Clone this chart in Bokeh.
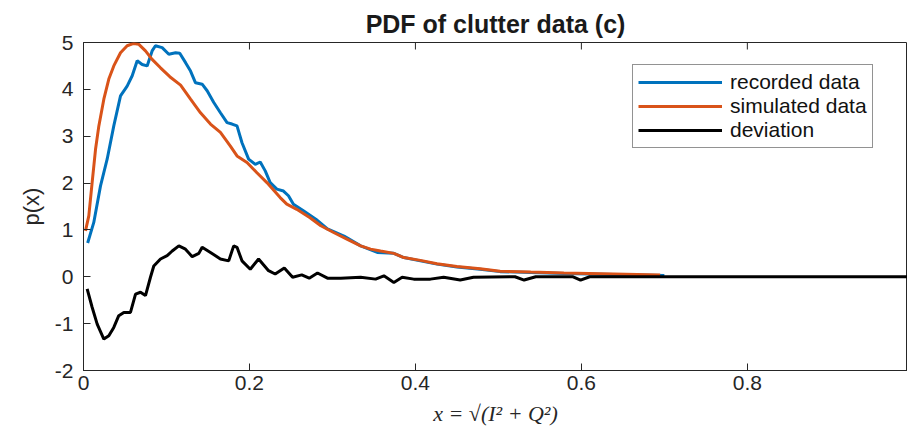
from bokeh.plotting import figure
from bokeh.models import Range1d, FixedTicker, Legend, LegendItem
from bokeh.embed import file_html
from bokeh.resources import INLINE

# recorded data (blue)
rec_x = [0.005, 0.0124, 0.0205, 0.0285, 0.0365, 0.0446, 0.0526, 0.0587, 0.0647, 0.0707,
         0.0767, 0.0827, 0.0867, 0.0948, 0.1028, 0.111, 0.116, 0.123, 0.129, 0.135,
         0.143, 0.149, 0.157, 0.165, 0.173, 0.179, 0.185, 0.191, 0.199, 0.207,
         0.213, 0.219, 0.225, 0.233, 0.241, 0.247, 0.253, 0.265, 0.280, 0.294,
         0.314, 0.334, 0.354, 0.374, 0.386, 0.406, 0.426, 0.450, 0.478, 0.502,
         0.539, 0.579, 0.639, 0.700]
rec_y = [0.72, 1.16, 1.94, 2.51, 3.22, 3.86, 4.07, 4.29, 4.61, 4.53,
         4.50, 4.82, 4.93, 4.89, 4.75, 4.78, 4.77, 4.57, 4.39, 4.14,
         4.11, 3.97, 3.72, 3.50, 3.29, 3.26, 3.22, 2.86, 2.51, 2.40,
         2.45, 2.26, 2.01, 1.87, 1.83, 1.73, 1.55, 1.41, 1.23, 1.02,
         0.87, 0.66, 0.52, 0.50, 0.41, 0.34, 0.27, 0.21, 0.16, 0.11,
         0.09, 0.07, 0.05, 0.03]

# simulated data (orange)
sim_x = [0.0024, 0.0064, 0.0104, 0.0145, 0.0185, 0.0245, 0.0305, 0.0365, 0.0446, 0.0526,
         0.0606, 0.0667, 0.0747, 0.0827, 0.0928, 0.104, 0.117, 0.129, 0.141, 0.153,
         0.165, 0.177, 0.185, 0.197, 0.209, 0.221, 0.229, 0.237, 0.245, 0.257,
         0.273, 0.286, 0.302, 0.318, 0.334, 0.346, 0.358, 0.374, 0.386, 0.406,
         0.426, 0.450, 0.478, 0.502, 0.539, 0.579, 0.639, 0.695]
sim_y = [0.98, 1.30, 2.01, 2.72, 3.22, 3.79, 4.22, 4.50, 4.78, 4.93,
         4.98, 4.96, 4.82, 4.64, 4.46, 4.27, 4.09, 3.79, 3.50, 3.26,
         3.08, 2.79, 2.58, 2.44, 2.22, 2.01, 1.85, 1.69, 1.55, 1.44,
         1.26, 1.09, 0.94, 0.80, 0.66, 0.59, 0.55, 0.50, 0.41, 0.35,
         0.28, 0.22, 0.17, 0.12, 0.10, 0.08, 0.06, 0.04]

# deviation (black)
dev_x = [0.0044, 0.0104, 0.0165, 0.0245, 0.0305, 0.0365, 0.0425, 0.0486, 0.0566, 0.0627,
         0.0687, 0.0747, 0.0807, 0.0847, 0.0928, 0.1008, 0.1069, 0.1149, 0.1229, 0.131,
         0.139, 0.143, 0.153, 0.165, 0.175, 0.181, 0.185, 0.191, 0.201, 0.211,
         0.223, 0.231, 0.242, 0.252, 0.263, 0.272, 0.282, 0.294, 0.310, 0.334,
         0.352, 0.362, 0.374, 0.384, 0.398, 0.418, 0.434, 0.454, 0.470, 0.520,
         0.531, 0.545, 0.590, 0.599, 0.610, 1.0]
dev_y = [-0.26, -0.65, -1.01, -1.33, -1.26, -1.08, -0.83, -0.76, -0.76, -0.37,
         -0.33, -0.40, -0.01, 0.23, 0.38, 0.45, 0.55, 0.66, 0.59, 0.43,
         0.50, 0.63, 0.52, 0.38, 0.34, 0.66, 0.63, 0.34, 0.16, 0.38,
         0.13, 0.06, 0.19, -0.01, 0.04, -0.03, 0.08, -0.03, -0.03, -0.01,
         -0.05, 0.02, -0.12, -0.01, -0.05, -0.05, -0.01, -0.07, -0.01, 0.0,
         -0.07, 0.0, 0.0, -0.07, 0.0, 0.0]

x_ticks = [0, 0.2, 0.4, 0.6, 0.8, 1.0]
y_ticks = [-2, -1, 0, 1, 2, 3, 4, 5]
y_tick_labels = ["-2", "-1", "0", "1", "2", "3", "4", "5"]
labels = ["recorded data", "simulated data", "deviation"]
colors = ["#0072BD", "#D95319", "#000000"]

FONT = "Liberation Sans"
TXT = "#262626"
Y0, Y1 = -2, 5
TICK_PX = 7
FRAME_H = 328

p = figure(width=907, height=439, x_range=Range1d(0, 0.993), y_range=Range1d(Y0, Y1),
           output_backend="svg", toolbar_location=None,
           min_border_left=83, min_border_right=0, min_border_top=42, min_border_bottom=69,
           title="PDF of clutter data (c)")
p.title.align = "center"
p.title.text_font = FONT
p.title.text_font_size = "25px"
p.title.text_font_style = "bold"
p.title.text_color = "#1a1a1a"
p.title.standoff = 9

p.grid.visible = False
p.outline_line_color = TXT
p.outline_line_width = 1
p.background_fill_color = "white"
p.border_fill_color = "white"

for ax in (p.xaxis[0], p.yaxis[0]):
    ax.major_tick_in = TICK_PX
    ax.major_tick_out = 0
    ax.minor_tick_line_color = None
    ax.axis_line_color = TXT
    ax.major_tick_line_color = TXT
    ax.major_label_text_font = FONT
    ax.major_label_text_font_size = "21px"
    ax.major_label_text_color = TXT
    ax.axis_label_text_font_style = "normal"
    ax.axis_label_text_color = TXT

p.xaxis[0].ticker = FixedTicker(ticks=x_ticks)
p.yaxis[0].ticker = FixedTicker(ticks=y_ticks)
p.yaxis[0].major_label_overrides = {t: s for t, s in zip(y_ticks, y_tick_labels)}
p.xaxis[0].major_label_standoff = 5
p.yaxis[0].major_label_standoff = 10

p.yaxis[0].axis_label = "p(x)"
p.yaxis[0].axis_label_text_font = FONT
p.yaxis[0].axis_label_text_font_size = "22px"
p.yaxis[0].axis_label_standoff = 8

p.xaxis[0].axis_label = "x = \u221a(I\u00b2 + Q\u00b2)"
p.xaxis[0].axis_label_text_font = "Liberation Serif"
p.xaxis[0].axis_label_text_font_style = "italic"
p.xaxis[0].axis_label_text_font_size = "22px"
p.xaxis[0].axis_label_standoff = 8

# mirrored inward ticks on the top box edge
tick_len = TICK_PX * (Y1 - Y0) / FRAME_H
p.segment(x0=x_ticks, y0=[Y1] * len(x_ticks), x1=x_ticks, y1=[Y1 - tick_len] * len(x_ticks),
          line_color=TXT, line_width=1)

r1 = p.line(rec_x, rec_y, line_width=3, color=colors[0])
r2 = p.line(sim_x, sim_y, line_width=3, color=colors[1])
r3 = p.line(dev_x, dev_y, line_width=3, color=colors[2])

legend = Legend(items=[LegendItem(label=labels[0], renderers=[r1]),
                       LegendItem(label=labels[1], renderers=[r2]),
                       LegendItem(label=labels[2], renderers=[r3])],
                location=(549, 222), margin=0, padding=5, spacing=0,
                glyph_width=84, glyph_height=20, label_height=20, label_standoff=8,
                label_text_font=FONT, label_text_font_size="21px", label_text_color="#111111",
                border_line_color=TXT, border_line_width=1, background_fill_color="white",
                background_fill_alpha=1.0)
p.add_layout(legend, "center")

open("out.html", "w").write(file_html(p, INLINE))
